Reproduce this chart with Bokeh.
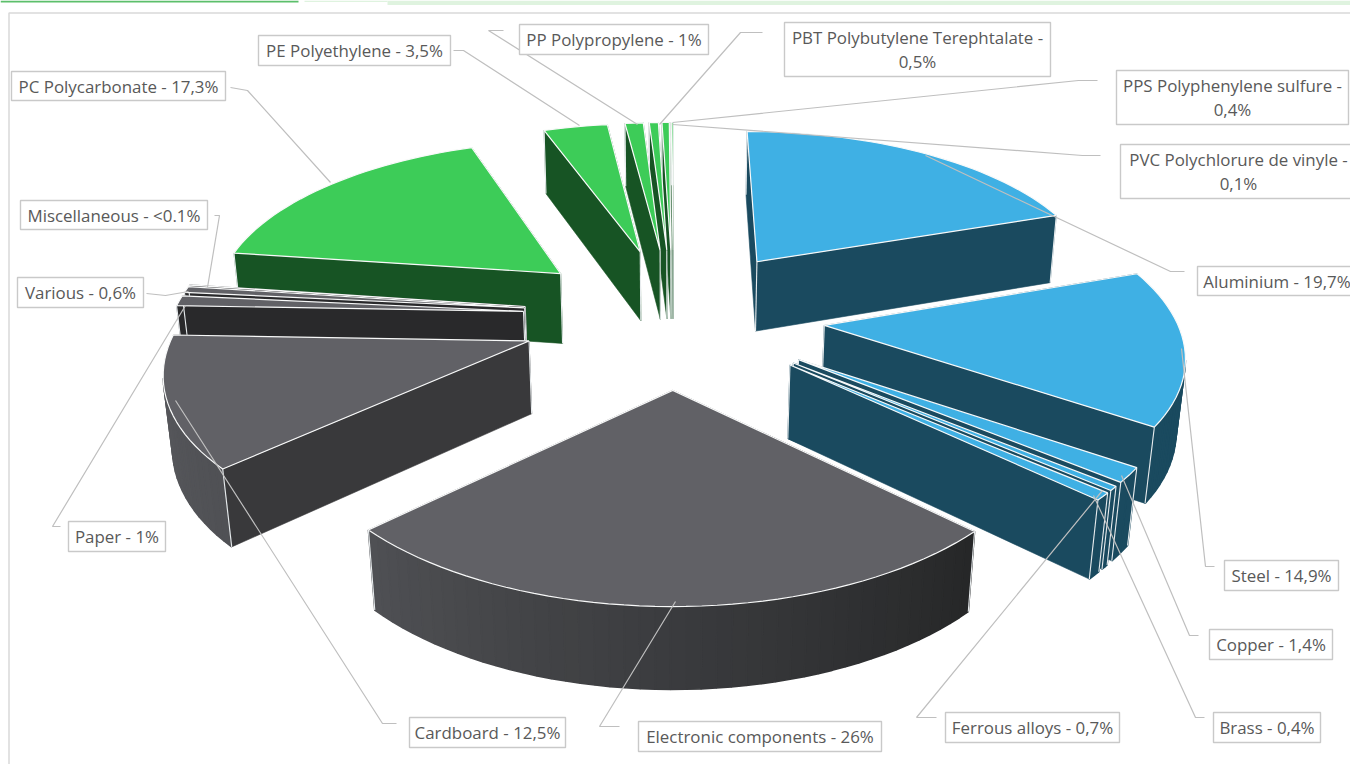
import math
from bokeh.plotting import figure
from bokeh.embed import file_html
from bokeh.resources import INLINE
from bokeh.core.properties import value

# ---- data ----
materials = ["Aluminium", "Steel", "Copper", "Brass", "Ferrous alloys", "Electronic components",
             "Cardboard", "Paper", "Various", "Miscellaneous", "PC Polycarbonate", "PE Polyethylene",
             "PP Polypropylene", "PBT Polybutylene Terephtalate", "PPS Polyphenylene sulfure",
             "PVC Polychlorure de vinyle"]
shares = [19.7, 14.9, 1.4, 0.4, 0.7, 26, 12.5, 1, 0.6, 0.05, 17.3, 3.5, 1, 0.5, 0.4, 0.1]
share_texts = ["19,7%", "14,9%", "1,4%", "0,4%", "0,7%", "26%", "12,5%", "1%", "0,6%", "<0.1%",
               "17,3%", "3,5%", "1%", "0,5%", "0,4%", "0,1%"]
groups = ["metal"] * 5 + ["other"] * 5 + ["plastic"] * 6

# ---- styles and layout ----
TOP = {"metal": "#3FB0E4", "other": "#616166", "plastic": "#3DCC58"}
WALL = {"metal": "#1A4A5F", "other": "#39393B", "plastic": "#175424"}
CX, CY, R, B, H, K, M, EXPLODE = 673, 315.5, 351, 162.5, 73, 0.14, 0.018, 0.43
WIDTH, HEIGHT = 1350, 764

# box per label: x0, y0, x1, y1 and leader polyline, in page pixels
boxes = [(1197, 266, 1356, 295), (1224, 560, 1338, 590), (1209, 629, 1332, 659), (1213, 712, 1320, 742),
         (945, 712, 1119, 742), (638, 721, 881, 751), (409, 717, 565, 747), (68, 521, 165, 551),
         (17, 277, 143, 307), (20, 200, 207, 229), (11, 71, 225, 100), (258, 35, 450, 65),
         (519, 24, 708, 54), (784, 22, 1050, 76), (1116, 70, 1348, 124), (1120, 144, 1356, 198)]
leaders = [[(1184, 271), (1170, 271), (925, 155)], [(1214, 566), (1205, 566), (1181, 348)],
           [(1198, 635), (1189, 635), (1121, 475)], [(1204, 717), (1195, 717), (1093, 495)],
           [(936, 717), (916, 717), (1102, 490)], [(619, 726), (599, 726), (675, 601)],
           [(396, 723), (382, 723), (175, 400)], [(60, 526), (52, 526), (185, 305)],
           [(146, 293), (165, 295), (188, 291)], [(214, 215), (219, 215), (207, 287)],
           [(230, 87), (247, 90), (330, 182)], [(453, 50), (463, 50), (579, 125)],
           [(503, 30), (488, 30), (637, 124)], [(762, 32), (740, 32), (659, 124)],
           [(1097, 80), (1078, 80), (672, 122)], [(1100, 155), (1082, 155), (672, 124)]]
two_line = {13, 14, 15}


def project(px, py, z):
    w = 1 - K * py + M * z
    return CX + R * px / w, CY + (B * py + H * z) / w


def lerp_hex(a, b, t):
    ca = [int(a[i:i + 2], 16) for i in (1, 3, 5)]
    cb = [int(b[i:i + 2], 16) for i in (1, 3, 5)]
    return "#" + "".join(f"{round(u + (v - u) * t):02x}" for u, v in zip(ca, cb))


def outer_colour(group, theta):
    if group != "other":
        return WALL[group]
    deg = math.degrees(theta)
    if deg < 228:
        return lerp_hex("#262728", "#505155", max(0, min(1, (deg - 134) / 94)))
    return lerp_hex("#505155", "#5a5b5f", min(1, (deg - 228) / 45))


def faces_camera(px, py, theta):
    return -px * math.sin(theta) + (1 / K - py) * (-math.cos(theta)) > 0


total = sum(shares)
p = figure(width=WIDTH, height=HEIGHT, x_range=(0, WIDTH), y_range=(HEIGHT, 0), output_backend="svg",
           toolbar_location=None, min_border=0, outline_line_color=None)
p.axis.visible = False
p.grid.visible = False

# page furniture
p.quad(left=[0, 304, 387], right=[298, 387, WIDTH], top=[0, 0, 0], bottom=[2, 1.5, 4.5],
       fill_color=["#5CBF6B", "#DFF3DF", "#DFF3DF"], line_color=None)
p.line([8.5, 8.5, WIDTH], [HEIGHT, 12.5, 12.5], line_color="#D9D9D9", line_width=1.5)

# slices
slices = []
cum = 0.0
for i, v in enumerate(shares):
    a0 = cum / total * 2 * math.pi
    cum += v
    a1 = cum / total * 2 * math.pi
    slices.append((i, a0, a1, (a0 + a1) / 2))
slices.sort(key=lambda s: -math.cos(s[3]))

for i, a0, a1, mid in slices:
    g = groups[i]
    ox, oy = EXPLODE * math.sin(mid), -EXPLODE * math.cos(mid)
    n = max(2, int((a1 - a0) / math.radians(2)))
    thetas = [a0 + (a1 - a0) * k / n for k in range(n + 1)]
    rim = [(ox + math.sin(t), oy - math.cos(t)) for t in thetas]
    apex = (ox, oy)

    walls = []
    for k in range(n):
        (x0, y0), (x1, y1) = rim[k], rim[k + 1]
        tm = (thetas[k] + thetas[k + 1]) / 2
        if not faces_camera((x0 + x1) / 2, (y0 + y1) / 2, tm):
            continue
        walls.append(((y0 + y1) / 2, [(x0, y0, 0), (x1, y1, 0), (x1, y1, 1), (x0, y0, 1)],
                      outer_colour(g, tm), 1.6))
    radial = WALL[g]
    if g == "other" and i != 6:
        radial = "#29292B"
    for (x0, y0) in (rim[0], rim[-1]):
        walls.append(((y0 + apex[1]) / 2, [(apex[0], apex[1], 0), (x0, y0, 0), (x0, y0, 1), (apex[0], apex[1], 1)], radial, 0.6))
    walls.sort(key=lambda w: w[0])

    xs, ys, cols, lws = [], [], [], []
    for _, pts, col, lw in walls:
        pr = [project(*q) for q in pts]
        xs.append([q[0] for q in pr])
        ys.append([q[1] for q in pr])
        cols.append(col)
        lws.append(lw)
    p.patches(xs, ys, fill_color=cols, line_color=cols, line_width=lws)

    edges = [apex, rim[0], rim[-1]]
    ex = [[project(q[0], q[1], 0)[0], project(q[0], q[1], 1)[0]] for q in edges]
    ey = [[project(q[0], q[1], 0)[1], project(q[0], q[1], 1)[1]] for q in edges]
    p.multi_line(ex, ey, line_color="#E8ECEE", line_width=1.1)

    outline = [project(apex[0], apex[1], 0)] + [project(q[0], q[1], 0) for q in rim]
    p.patch([q[0] for q in outline], [q[1] for q in outline], fill_color=TOP[g],
            line_color="#F8F9F9", line_width=1.2)

# leaders
p.multi_line([[q[0] for q in l] for l in leaders], [[q[1] for q in l] for l in leaders],
             line_color="#BFBFBF", line_width=1.2)

# labels
p.quad(left=[b[0] for b in boxes], right=[b[2] for b in boxes], top=[b[1] for b in boxes],
       bottom=[b[3] for b in boxes], fill_color="white", line_color="#C9C9C9", line_width=1.4)
texts = [f"{m} -\n{s}" if i in two_line else f"{m} - {s}"
         for i, (m, s) in enumerate(zip(materials, share_texts))]
p.text(x=[(b[0] + b[2]) / 2 for b in boxes], y=[(b[1] + b[3]) / 2 for b in boxes], text=texts,
       text_align="center", text_baseline="middle", text_color="#595959", text_font=value("Open Sans"),
       text_font_size="16.9px", text_line_height=1.03)

open("out.html", "w").write(file_html(p, INLINE))
